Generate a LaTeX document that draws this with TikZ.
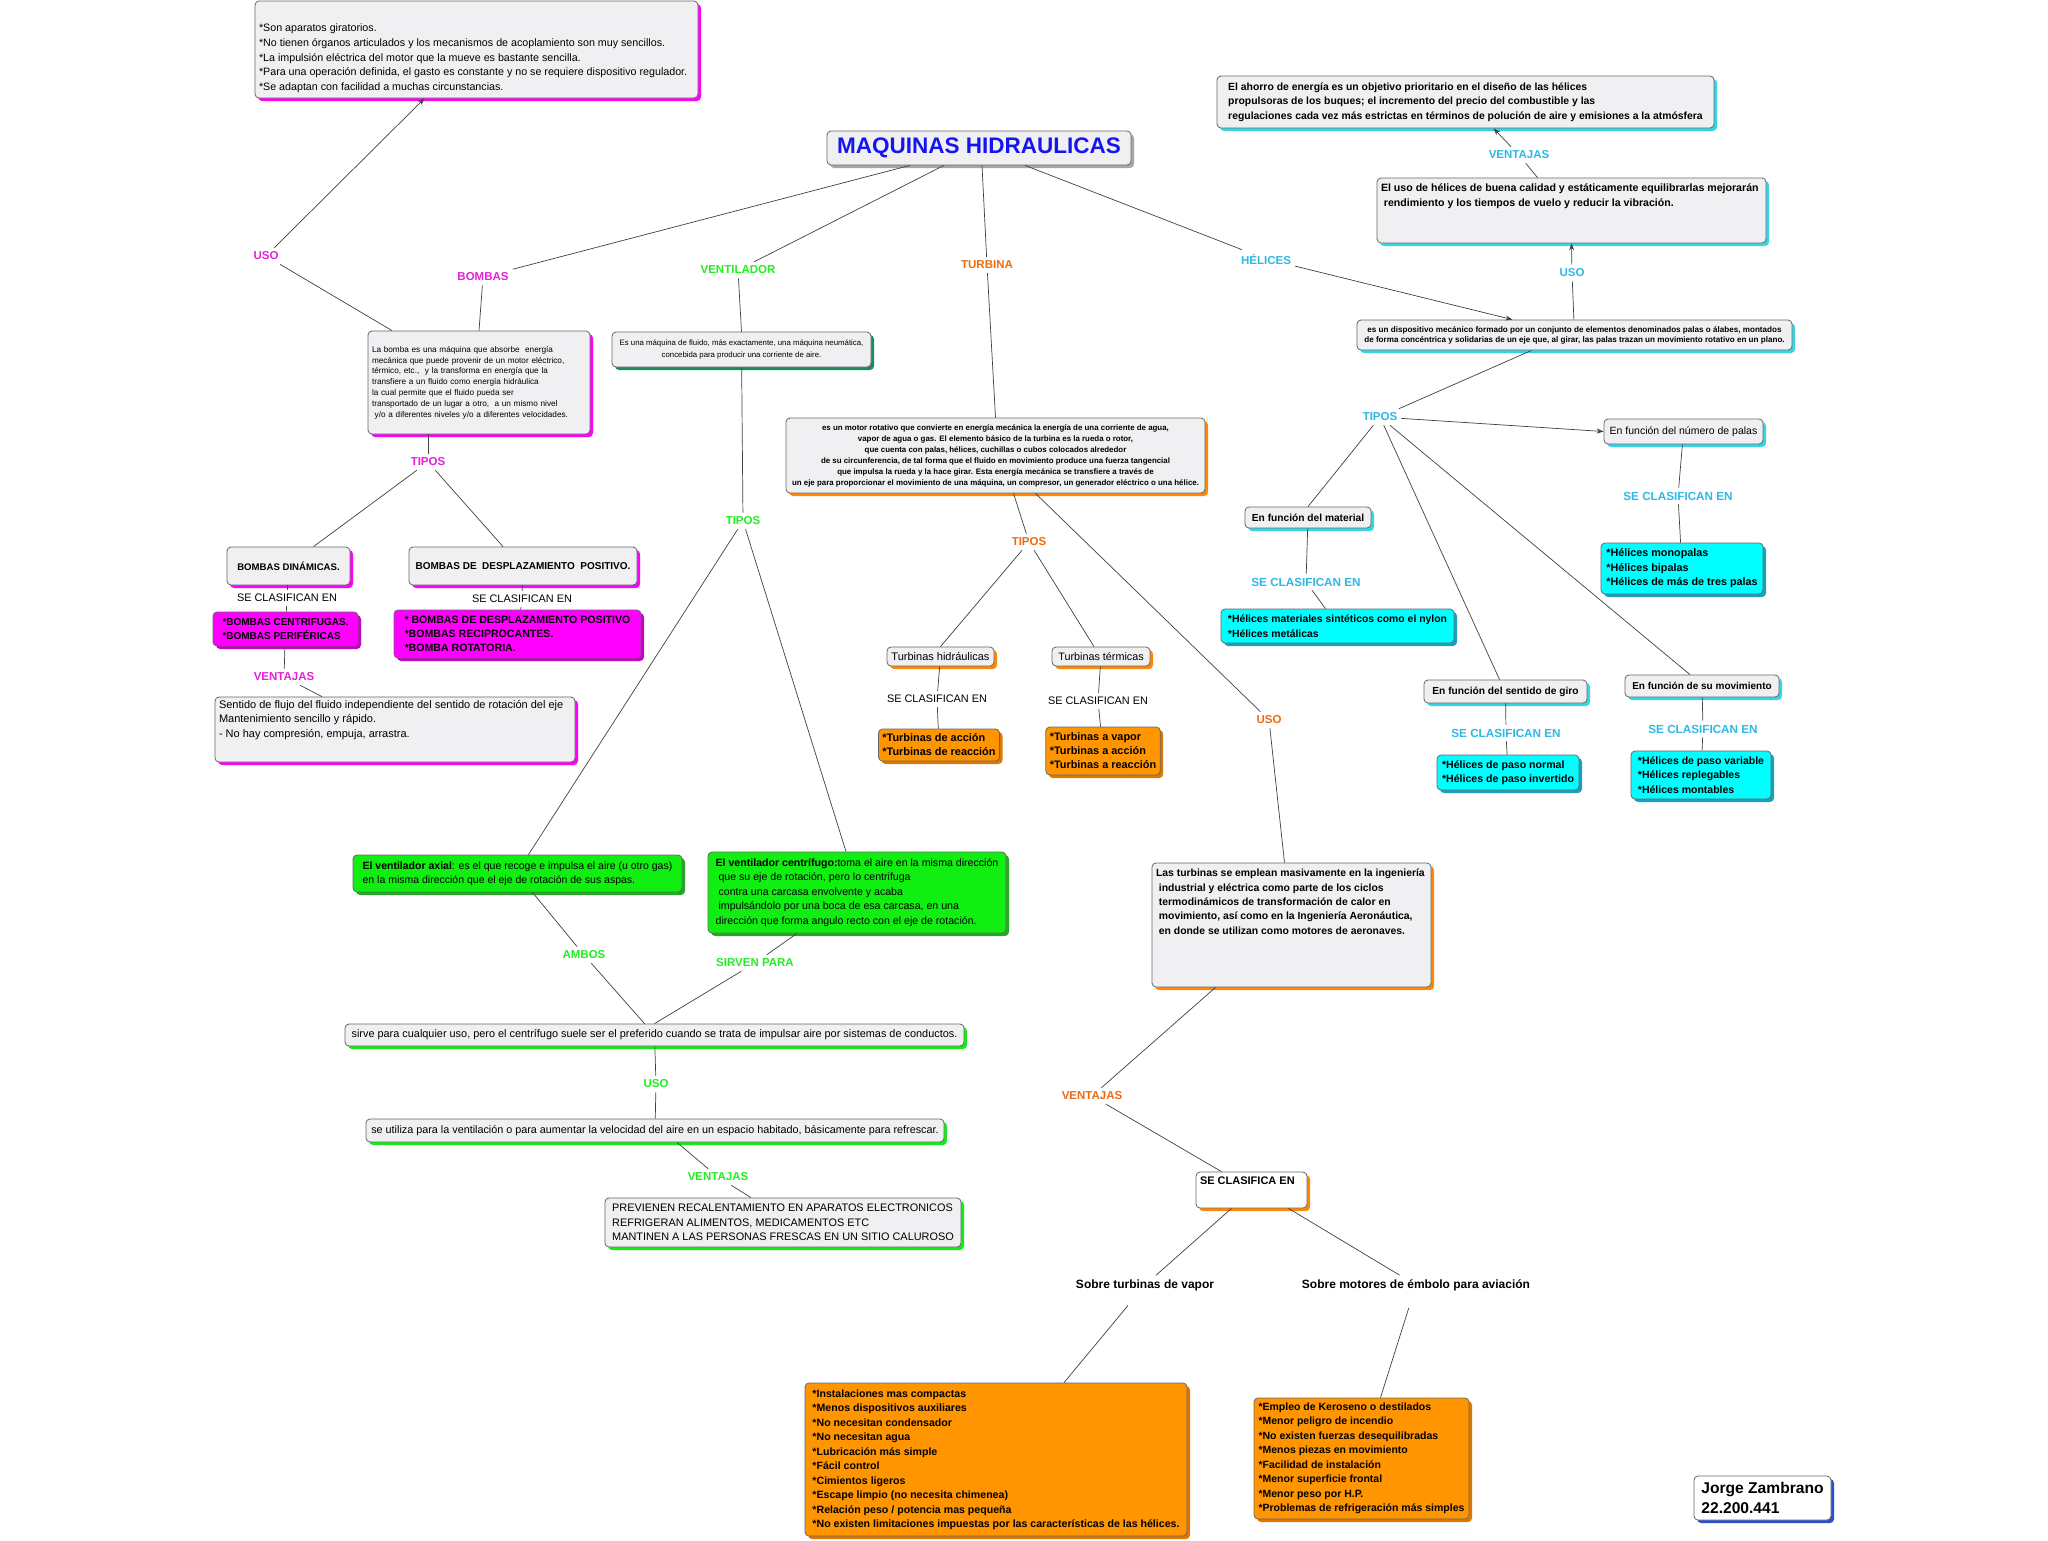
\documentclass[tikz,border=0pt]{standalone}
\usepackage{fontspec}
\setmainfont{Liberation Sans}
\usetikzlibrary{arrows.meta, shadows}
\newcommand{\fsz}[2]{\fontsize{#1}{#2}\selectfont}
\definecolor{boxgray}{HTML}{F0F0F3}
\definecolor{ttl}{HTML}{1515F0}
\definecolor{magl}{HTML}{E620DC}
\definecolor{magc}{HTML}{FF00FF}
\definecolor{magd}{HTML}{C800C8}
\definecolor{grnl}{HTML}{22EE22}
\definecolor{grnf}{HTML}{11EE11}
\definecolor{grns}{HTML}{22AA22}
\definecolor{tealsh}{HTML}{1E8C5A}
\definecolor{orl}{HTML}{EE6A10}
\definecolor{orf}{HTML}{FF9500}
\definecolor{ord}{HTML}{DD7700}
\definecolor{ors}{HTML}{FF8800}
\definecolor{cyl}{HTML}{2EB8E6}
\definecolor{cyf}{HTML}{00FFFF}
\definecolor{cyd}{HTML}{1AA0C0}
\definecolor{cys}{HTML}{33D6E6}
\definecolor{blsh}{HTML}{2A4FD0}
\tikzset{
  conn/.style={draw=black!75, line width=0.7pt},
  arr/.style={conn, -{Stealth[length=7pt, width=5pt]}},
  lbl/.style={font=\bfseries\fsz{11.5}{13}, inner sep=4pt},
  selbl/.style={font=\fsz{10.9}{12}, inner sep=4pt},
  clbl/.style={text=cyl, font=\bfseries\fsz{11.7}{13}, inner sep=4pt},
  cbox/.style={
    draw=black!60, rounded corners=4pt, line width=0.8pt,
    fill=boxgray, inner xsep=4pt, inner ysep=3pt,
    drop shadow={shadow xshift=3pt, shadow yshift=-3pt, fill=#1, opacity=1}
  },
  colbox/.style 2 args={cbox=#2, fill=#1},
}
\begin{document}
\begin{tikzpicture}[x=1pt, y=-1pt]
\fill[white] (0,0) rectangle (2048,1540);
\useasboundingbox (0,0) rectangle (2048,1540);

% title
\node[cbox=black!35, minimum width=304pt, minimum height=34pt,
  font=\bfseries\fsz{22.5}{26}, text=ttl] (title) at (979,148) {MAQUINAS HIDRAULICAS};

% bombas
\node[lbl, text=magl] (usoB) at (266,256) {USO};
\node[lbl, text=magl] (bombasL) at (483,277) {BOMBAS};
\node[cbox=magc, font=\fsz{10.7}{14.7}] (usoBox) at (476.5,49.5)
  {\parbox[c][91pt][t]{435pt}{\raggedright\vspace*{20pt}*Son aparatos giratorios.\\{}*No tienen órganos articulados y los mecanismos de acoplamiento son muy sencillos.\\{}*La impulsión eléctrica del motor que la mueve es bastante sencilla.\\{}*Para una operación definida, el gasto es constante y no se requiere dispositivo regulador.\\{}*Se adaptan con facilidad a muchas circunstancias.}};
\node[cbox=magc, text width=214pt, minimum height=103pt, align=left, font=\fsz{8.2}{10.8}] (bombasBox) at (479,382.5)
  {La bomba es una máquina que absorbe~ energía\\
   mecánica que puede provenir de un motor eléctrico,\\
   térmico, etc.,~ y la transforma en energía que la\\
   transfiere a un fluido como energía hidráulica\\
   la cual permite que el fluido pueda ser\\
   transportado de un lugar a otro,~ a un mismo nivel\\
   \ y/o a diferentes niveles y/o a diferentes velocidades.};
\node[lbl, text=magl] (tiposB) at (428,462) {TIPOS};
\node[cbox=magc, minimum width=123pt, minimum height=38pt, font=\bfseries\fsz{9.6}{11}] (dinBox) at (288.5,566) {BOMBAS DINÁMICAS.};
\node[cbox=magc, minimum width=228pt, minimum height=38pt, font=\bfseries\fsz{10}{11}] (despBox) at (523,566) {BOMBAS DE~~DESPLAZAMIENTO~~POSITIVO.};
\node[selbl] (seC1) at (287,598) {SE CLASIFICAN EN};
\node[selbl] (seC2) at (522,599) {SE CLASIFICAN EN};
\node[colbox={magc}{magd}, minimum width=145pt, minimum height=34pt, align=left, font=\bfseries\fsz{10}{14}] (mag1) at (285.5,629)
  {*BOMBAS CENTRIFUGAS.\\{}*BOMBAS PERIFÉRICAS};
\node[colbox={magc}{magd}, minimum width=247pt, minimum height=48pt, align=left, font=\bfseries\fsz{10.6}{14}] (mag2) at (517.5,634)
  {* BOMBAS DE DESPLAZAMIENTO POSITIVO\\{}*BOMBAS RECIPROCANTES.\\{}*BOMBA ROTATORIA.};
\node[lbl, text=magl] (ventB) at (284,677) {VENTAJAS};
\node[cbox=magc, font=\fsz{11}{14.5}] (bVentBox) at (395,729.5)
  {\parbox[c][59pt][t]{352pt}{\raggedright Sentido de flujo del fluido independiente del sentido de rotación del eje\\
   Mantenimiento sencillo y rápido.\\
   - No hay compresión, empuja, arrastra.}};

% ventilador
\node[lbl, text=grnl] (ventL) at (738,270) {VENTILADOR};
\node[cbox=tealsh, minimum width=259pt, minimum height=35pt, align=center, font=\fsz{7.8}{11.5}] (ventBox) at (741.5,349.5)
  {Es una máquina de fluido, más exactamente, una máquina neumática,\\
   concebida para producir una corriente de aire.};
\node[lbl, text=grnl] (tiposV) at (743,521) {TIPOS};
\node[colbox={grnf}{grns}, minimum width=329pt, minimum height=37pt, align=left, font=\fsz{10.5}{14.4}] (axBox) at (517.5,873.5)
  {\textbf{El ventilador axial}: es el que recoge e impulsa el aire (u otro gas)\\
   en la misma dirección que el eje de rotación de sus aspas.};
\node[colbox={grnf}{grns}, minimum width=298pt, minimum height=81pt, align=left, font=\fsz{10.6}{14.4}] (cfBox) at (857,892.5)
  {\textbf{El ventilador centrífugo:}toma el aire en la misma dirección\\
   \ que su eje de rotación, pero lo centrifuga\\
   \ contra una carcasa envolvente y acaba\\
   \ impulsándolo por una boca de esa carcasa, en una\\
   dirección que forma angulo recto con el eje de rotación.};
\node[lbl, text=grnl] (ambos) at (584,955) {AMBOS};
\node[lbl, text=grnl] (sirven) at (755,963) {SIRVEN PARA};
\node[cbox=grnf, minimum width=619pt, minimum height=22pt, font=\fsz{10.9}{12}] (sirveBox) at (654.5,1035)
  {sirve para cualquier uso, pero el centrífugo suele ser el preferido cuando se trata de impulsar aire por sistemas de conductos.};
\node[lbl, text=grnl] (usoV) at (656,1084) {USO};
\node[cbox=grnf, minimum width=578pt, minimum height=23pt, font=\fsz{10.8}{12}] (utilBox) at (655,1130.5)
  {se utiliza para la ventilación o para aumentar la velocidad del aire en un espacio habitado, básicamente para refrescar.};
\node[lbl, text=grnl] (ventV) at (718,1177) {VENTAJAS};
\node[cbox=grnf, minimum width=356pt, minimum height=49pt, align=left, font=\fsz{10.9}{14.5}] (vvBox) at (783,1222.5)
  {PREVIENEN RECALENTAMIENTO EN APARATOS ELECTRONICOS\\
   REFRIGERAN ALIMENTOS, MEDICAMENTOS ETC\\
   MANTINEN A LAS PERSONAS FRESCAS EN UN SITIO CALUROSO};

% turbina
\node[lbl, text=orl] (turbL) at (987,265) {TURBINA};
\node[cbox=ors, minimum width=419pt, minimum height=75pt, align=center, font=\bfseries\fsz{7.9}{11}] (turbBox) at (995.5,455.5)
  {es un motor rotativo que convierte en energía mecánica la energía de una corriente de agua,\\
   vapor de agua o gas. El elemento básico de la turbina es la rueda o rotor,\\
   que cuenta con palas, hélices, cuchillas o cubos colocados alrededor\\
   de su circunferencia, de tal forma que el fluido en movimiento produce una fuerza tangencial\\
   que impulsa la rueda y la hace girar. Esta energía mecánica se transfiere a través de\\
   un eje para proporcionar el movimiento de una máquina, un compresor, un generador eléctrico o una hélice.};
\node[lbl, text=orl] (tiposT) at (1029,542) {TIPOS};
\node[cbox=ors, minimum width=107pt, minimum height=19pt, inner ysep=1pt, font=\fsz{11}{12}] (hidBox) at (940.5,656.5) {Turbinas hidráulicas};
\node[cbox=ors, minimum width=98pt, minimum height=19pt, inner ysep=1pt, font=\fsz{10.8}{12}] (termBox) at (1101,656.5) {Turbinas térmicas};
\node[selbl] (seT1) at (937,699) {SE CLASIFICAN EN};
\node[selbl] (seT2) at (1098,701) {SE CLASIFICAN EN};
\node[colbox={orf}{ord}, minimum width=120pt, minimum height=32pt, align=left, font=\bfseries\fsz{10.9}{14}] (oh1) at (939,745)
  {*Turbinas de acción\\{}*Turbinas de reacción};
\node[colbox={orf}{ord}, minimum width=114pt, minimum height=48pt, align=left, font=\bfseries\fsz{10.9}{14}] (oh2) at (1103,751)
  {*Turbinas a vapor\\{}*Turbinas a acción\\{}*Turbinas a reacción};
\node[lbl, text=orl] (usoT) at (1269,720) {USO};
\node[cbox=ors, font=\bfseries\fsz{10.4}{14.4}] (tuBox) at (1291.5,925)
  {\parbox[c][118pt][t]{271pt}{\raggedright\vspace*{3pt}Las turbinas se emplean masivamente en la ingeniería\\
   \ industrial y eléctrica como parte de los ciclos\\
   \ termodinámicos de transformación de calor en\\
   \ movimiento, así como en la Ingeniería Aeronáutica,\\
   \ en donde se utilizan como motores de aeronaves.}};
\node[lbl, text=orl] (ventT) at (1092,1096) {VENTAJAS};
\node[cbox=ors, fill=white, font=\bfseries\fsz{11}{12}] (clasBox) at (1251.5,1190)
  {\parbox[c][30pt][t]{103pt}{\vspace*{2pt}SE CLASIFICA EN}};
\node[font=\bfseries\fsz{12}{13}, inner sep=4pt] (sobreV) at (1145,1285) {Sobre turbinas de vapor};
\node[font=\bfseries\fsz{12}{13}, inner sep=4pt] (sobreM) at (1416,1285) {Sobre motores de émbolo para aviación};
\node[colbox={orf}{ord}, minimum width=382pt, minimum height=153pt, align=left, font=\bfseries\fsz{10.6}{14.5}] (bo1) at (996,1459.5)
  {*Instalaciones mas compactas\\{}*Menos dispositivos auxiliares\\{}*No necesitan condensador\\{}*No necesitan agua\\{}*Lubricación más simple\\{}*Fácil control\\{}*Cimientos ligeros\\{}*Escape limpio (no necesita chimenea)\\{}*Relación peso / potencia mas pequeña\\{}*No existen limitaciones impuestas por las características de las hélices.};
\node[colbox={orf}{ord}, minimum width=215pt, minimum height=121pt, align=left, font=\bfseries\fsz{10.5}{14.5}] (bo2) at (1361.5,1458.5)
  {*Empleo de Keroseno o destilados\\{}*Menor peligro de incendio\\{}*No existen fuerzas desequilibradas\\{}*Menos piezas en movimiento\\{}*Facilidad de instalación\\{}*Menor superficie frontal\\{}*Menor peso por H.P.\\{}*Problemas de refrigeración más simples};

% helices
\node[lbl, text=cyl] (heliL) at (1266,259) {HÉLICES};
\node[cbox=cys, minimum width=435pt, minimum height=30pt, align=center, font=\bfseries\fsz{8.1}{10}] (hdBox) at (1574.5,335)
  {es un dispositivo mecánico formado por un conjunto de elementos denominados palas o álabes, montados\\
   de forma concéntrica y solidarias de un eje que, al girar, las palas trazan un movimiento rotativo en un plano.};
\node[lbl, text=cyl] (usoH) at (1572,273) {USO};
\node[cbox=cys, font=\bfseries\fsz{10.6}{14.5}] (huBox) at (1571.5,210.5)
  {\parbox[c][59pt][t]{381pt}{\raggedright\vspace*{3pt}El uso de hélices de buena calidad y estáticamente equilibrarlas mejorarán\\
   \ rendimiento y los tiempos de vuelo y reducir la vibración.}};
\node[lbl, text=cyl] (ventH) at (1519,155) {VENTAJAS};
\node[cbox=cys, minimum width=497pt, minimum height=52pt, align=left, font=\bfseries\fsz{10.4}{14.5}] (trBox) at (1465.5,102)
  {El ahorro de energía es un objetivo prioritario en el diseño de las hélices\\
   propulsoras de los buques; el incremento del precio del combustible y las\\
   regulaciones cada vez más estrictas en términos de polución de aire y emisiones a la atmósfera};
\node[lbl, text=cyl] (tiposH) at (1380,417) {TIPOS};
\node[cbox=cys, minimum width=159pt, minimum height=25pt, font=\fsz{10.5}{12}] (npBox) at (1683.5,431.5) {En función del número de palas};
\node[clbl] (seH1) at (1678,496) {SE CLASIFICAN EN};
\node[colbox={cyf}{cyd}, minimum width=162pt, minimum height=51pt, align=left, font=\bfseries\fsz{10.8}{14.5}] (cyNP) at (1682,568.5)
  {*Hélices monopalas\\{}*Hélices bipalas\\{}*Hélices de más de tres palas};
\node[cbox=cys, minimum width=126pt, minimum height=21pt, font=\bfseries\fsz{10.2}{12}] (matBox) at (1308,517.5) {En función del material};
\node[clbl] (seH2) at (1306,582) {SE CLASIFICAN EN};
\node[colbox={cyf}{cyd}, minimum width=233pt, minimum height=34pt, align=left, font=\bfseries\fsz{10.4}{14.5}] (cyMat) at (1337.5,626)
  {*Hélices materiales sintéticos como el nylon\\{}*Hélices metálicas};
\node[cbox=cys, minimum width=163pt, minimum height=23pt, font=\bfseries\fsz{10.2}{12}] (giroBox) at (1505.5,691.5) {En función del sentido de giro};
\node[clbl] (seH3) at (1506,733) {SE CLASIFICAN EN};
\node[colbox={cyf}{cyd}, minimum width=142pt, minimum height=35pt, align=left, font=\bfseries\fsz{10.6}{14.5}] (cyGiro) at (1508,772.5)
  {*Hélices de paso normal\\{}*Hélices de paso invertido};
\node[cbox=cys, minimum width=154pt, minimum height=22pt, font=\bfseries\fsz{10}{12}] (movBox) at (1702,686) {En función de su movimiento};
\node[clbl] (seH4) at (1703,729) {SE CLASIFICAN EN};
\node[colbox={cyf}{cyd}, minimum width=140pt, minimum height=48pt, align=left, font=\bfseries\fsz{10.5}{14.5}] (cyMov) at (1701,775)
  {*Hélices de paso variable\\{}*Hélices replegables\\{}*Hélices montables};

% author
\node[cbox=blsh, fill=white, minimum width=137pt, minimum height=44pt, align=left, font=\bfseries\fsz{15.6}{20}] (author) at (1762.5,1498)
  {Jorge Zambrano\\22.200.441};

% connectors
\draw[conn] ([xshift=-69pt]title.south) -- (bombasL);
\draw[conn] ([xshift=-35pt]title.south) -- (ventL);
\draw[conn] ([xshift=3pt]title.south) -- (turbL);
\draw[conn] ([xshift=46pt]title.south) -- (heliL);

\draw[arr] (usoB) -- ([xshift=-52pt]usoBox.south);
\draw[conn] (usoB) -- ([xshift=-87pt]bombasBox.north);
\draw[conn] (bombasL) -- (bombasBox.north);
\draw[conn] ([xshift=-51pt]bombasBox.south) -- (tiposB);
\draw[conn] (tiposB) -- ([xshift=25pt]dinBox.north);
\draw[conn] (tiposB) -- ([xshift=-20pt]despBox.north);
\draw[conn] (dinBox) -- (seC1);
\draw[conn] (seC1) -- (mag1);
\draw[conn] (despBox) -- (seC2);
\draw[conn] (seC2) -- (mag2);
\draw[conn] (mag1) -- (ventB);
\draw[conn] (ventB) -- ([xshift=-73pt]bVentBox.north);

\draw[conn] (ventL) -- (ventBox.north);
\draw[conn] (ventBox) -- (tiposV);
\draw[conn] (tiposV) -- ([xshift=11pt]axBox.north);
\draw[conn] (tiposV) -- ([xshift=-11pt]cfBox.north);
\draw[conn] ([xshift=15pt]axBox.south) -- (ambos);
\draw[conn] (ambos) -- ([xshift=-10pt]sirveBox.north);
\draw[conn] ([xshift=-60pt]cfBox.south) -- (sirven);
\draw[conn] (sirven) -- (sirveBox.north);
\draw[conn] (sirveBox) -- (usoV);
\draw[conn] (usoV) -- (utilBox);
\draw[conn] ([xshift=22pt]utilBox.south) -- (ventV);
\draw[conn] (ventV) -- ([xshift=-32pt]vvBox.north);

\draw[conn] (turbL) -- (turbBox.north);
\draw[conn] ([xshift=18pt]turbBox.south) -- (tiposT);
\draw[conn] (tiposT) -- (hidBox.north);
\draw[conn] (tiposT) -- ([xshift=-7pt]termBox.north);
\draw[conn] (hidBox) -- (seT1);
\draw[conn] (seT1) -- (oh1);
\draw[conn] (termBox) -- (seT2);
\draw[conn] (seT2) -- (oh2);
\draw[conn] ([xshift=40pt]turbBox.south) -- (usoT);
\draw[conn] (usoT) -- ([xshift=-7pt]tuBox.north);
\draw[conn] ([xshift=-76pt]tuBox.south) -- (ventT);
\draw[conn] (ventT) -- ([xshift=-30pt]clasBox.north);
\draw[conn] ([xshift=-20pt]clasBox.south) -- (sobreV);
\draw[conn] ([xshift=37pt]clasBox.south) -- (sobreM);
\draw[conn, shorten <=14pt] (sobreV) -- ([xshift=68pt]bo1.north);
\draw[conn, shorten <=14pt] (sobreM) -- ([xshift=19pt]bo2.north);

\draw[arr] (heliL) -- ([xshift=-62pt]hdBox.north);
\draw[conn] (hdBox) -- (usoH);
\draw[arr] (usoH) -- (huBox.south);
\draw[conn] ([xshift=-34pt]huBox.north) -- (ventH);
\draw[arr] (ventH) -- ([xshift=28pt]trBox.south);
\draw[conn] ([xshift=-43pt]hdBox.south) -- (tiposH);
\draw[arr] (tiposH) -- (npBox.west);
\draw[conn] (npBox) -- (seH1);
\draw[conn] (seH1) -- (cyNP);
\draw[conn] (tiposH) -- (matBox.north);
\draw[conn] (matBox) -- (seH2);
\draw[conn] (seH2) -- ([xshift=-12pt]cyMat.north);
\draw[conn] (tiposH) -- ([xshift=-6pt]giroBox.north);
\draw[conn] (giroBox) -- (seH3);
\draw[conn] (seH3) -- (cyGiro);
\draw[conn] (tiposH) -- ([xshift=-12pt]movBox.north);
\draw[conn] (movBox) -- (seH4);
\draw[conn] (seH4) -- (cyMov);
\end{tikzpicture}
\end{document}
